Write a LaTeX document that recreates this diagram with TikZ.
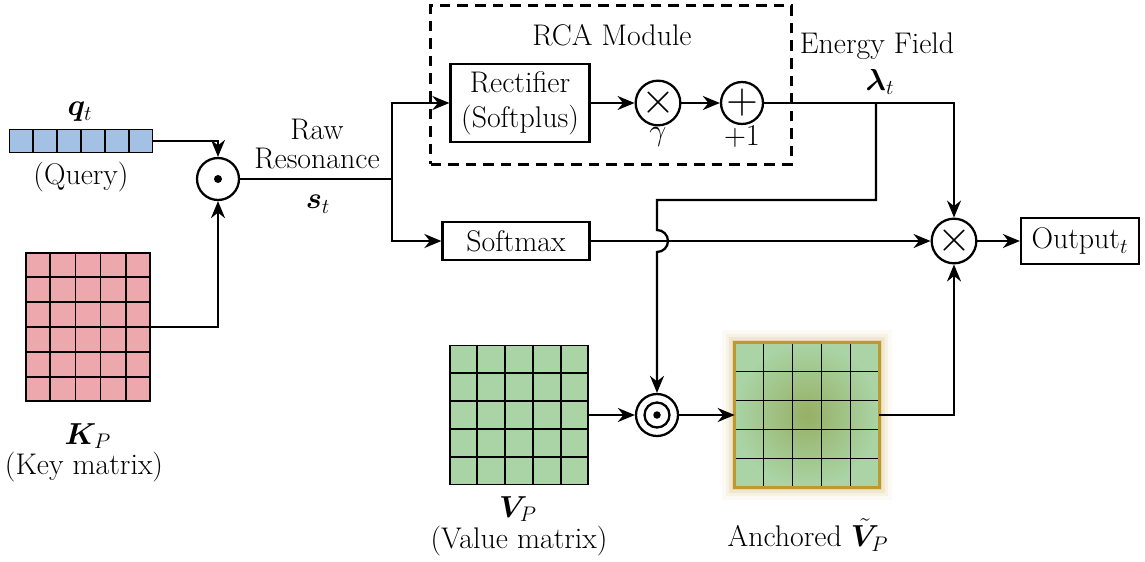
\documentclass[tikz,border=0pt]{standalone}
\usepackage{bm}
\usetikzlibrary{arrows.meta,calc,positioning}

\definecolor{qblue}{RGB}{163,193,228}
\definecolor{kpink}{RGB}{236,168,172}
\definecolor{vgreen}{RGB}{170,212,166}
\definecolor{vdark}{RGB}{150,176,100}
\definecolor{gold}{RGB}{190,152,48}

\tikzset{
  every node/.style={font=\fontsize{17}{20}\selectfont},
  wire/.style={line width=1.3pt},
  flow/.style={wire,-{Stealth[length=3.4mm,width=2.8mm]}},
  op/.style={circle,draw,line width=1.3pt,minimum size=0.84cm,inner sep=0pt,font=\fontsize{23}{23}\selectfont},
  block/.style={draw,line width=1.3pt,align=center,inner sep=1pt},
  mat/.style={draw,line width=1pt,inner sep=0pt},
  gridline/.style={line width=0.9pt},
}

\begin{document}
\begin{tikzpicture}[x=0.02cm,y=-0.02cm]
    \useasboundingbox (0,0) rectangle (1145,561);

    % query vector
    \node (query) [mat,fill=qblue,minimum width=2.86cm,minimum height=0.46cm] at (81,141) {};
    \foreach \i in {1,...,5}
      \draw[gridline] ($(query.north west)!\i/6!(query.north east)$) -- ($(query.south west)!\i/6!(query.south east)$);
    \node (qlab) at (80,112) {$\bm{q}_t$};
    \node (qname) at (81,177) {(Query)};

    % key matrix
    \node (key) [mat,fill=kpink,minimum width=2.48cm,minimum height=2.96cm] at (88,327) {};
    \foreach \i in {1,...,4}
      \draw[gridline] ($(key.north west)!\i/5!(key.north east)$) -- ($(key.south west)!\i/5!(key.south east)$);
    \foreach \j in {1,...,5}
      \draw[gridline] ($(key.north west)!\j/6!(key.south west)$) -- ($(key.north east)!\j/6!(key.south east)$);
    \node (klab) at (88,436) {$\bm{K}_P$};
    \node (kname) at (84,467) {(Key matrix)};

    % resonance
    \node (dot) [op] at (218,179) {};
    \fill (dot.center) circle (0.08cm);
    \node (raw) [align=center] at (317,144) {Raw\\[-3pt]Resonance};
    \node (slab) at (318,204) {$\bm{s}_t$};
    \coordinate (split) at (392,179);

    % RCA module
    \node (rca) [draw,line width=1.3pt,dash pattern=on 6pt off 4pt,minimum width=7.22cm,minimum height=3.18cm] at (611,85) {};
    \node (rcatitle) at (612,35) {RCA Module};
    \node (rect) [block,minimum width=2.78cm,minimum height=1.56cm] at (520,103) {Rectifier\\(Softplus)};
    \node (times) [op] at (658,103) {$\times$};
    \node (glab) at (658,137) {$\gamma$};
    \node (plus) [op] at (742,103) {$+$};
    \node (plab) at (742,137) {$+1$};

    % energy field
    \node (elab) at (877,46) {Energy Field};
    \node (lam) at (880,82) {$\bm{\lambda}_t$};
    \coordinate (tap) at (876,103);
    \coordinate (bend) at (657,200);

    % softmax path
    \node (soft) [block,minimum width=2.94cm,minimum height=0.76cm] at (516,241) {Softmax};
    \node (mul) [op] at (954,241) {$\times$};
    \node (out) [block,minimum width=2.36cm,minimum height=0.92cm] at (1080,241) {Output$_t$};

    % value matrix
    \node (val) [mat,fill=vgreen,minimum width=2.76cm,minimum height=2.78cm] at (519,415) {};
    \foreach \i in {1,...,4} {
      \draw[gridline] ($(val.north west)!\i/5!(val.north east)$) -- ($(val.south west)!\i/5!(val.south east)$);
      \draw[gridline] ($(val.north west)!\i/5!(val.south west)$) -- ($(val.north east)!\i/5!(val.south east)$);
    }
    \node (vlab) at (518,509) {$\bm{V}_P$};
    \node (vname) at (519,541) {(Value matrix)};

    % anchoring
    \node (had) [op] at (657,415) {};
    \draw[line width=1.3pt] (had.center) circle (0.25cm);
    \fill (had.center) circle (0.075cm);

    % anchored matrix
    \node (anch) [inner sep=0pt,minimum width=2.88cm,minimum height=2.88cm] at (807,415) {};
    \foreach \w/\o in {14/0.05,10/0.08,6/0.12,3.5/0.2}
      \draw[gold,line width=\w pt,opacity=\o] (anch.south west) rectangle (anch.north east);
    \shade[inner color=vdark,outer color=vgreen] (anch.south west) rectangle (anch.north east);
    \foreach \i in {1,...,4} {
      \draw[gridline] ($(anch.north west)!\i/5!(anch.north east)$) -- ($(anch.south west)!\i/5!(anch.south east)$);
      \draw[gridline] ($(anch.north west)!\i/5!(anch.south west)$) -- ($(anch.north east)!\i/5!(anch.south east)$);
    }
    \draw[gold,line width=1.8pt] (anch.south west) rectangle (anch.north east);
    \node (alab) at (808,535) {Anchored $\tilde{\bm{V}}_P$};

    % connections
    \draw[flow] (query.east) -| (dot.north);
    \draw[flow] (key.east) -| (dot.south);
    \draw[wire] (dot.east) -- (split);
    \draw[flow] (split) |- (rect.west);
    \draw[flow] (split) |- (soft.west);
    \draw[flow] (rect.east) -- (times.west);
    \draw[flow] (times.east) -- (plus.west);
    \draw[flow] (plus.east) -| (mul.north);
    \draw[flow] (tap) |- (bend) -- ($(bend |- soft.east)+(0,-11)$)
      arc[start angle=90,end angle=-90,radius=0.22cm] -- (had.north);
    \draw[flow] (soft.east) -- (mul.west);
    \draw[flow] (mul.east) -- (out.west);
    \draw[flow] (val.east) -- (had.west);
    \draw[flow] (had.east) -- (anch.west);
    \draw[flow] (anch.east) -| (mul.south);
\end{tikzpicture}
\end{document}
